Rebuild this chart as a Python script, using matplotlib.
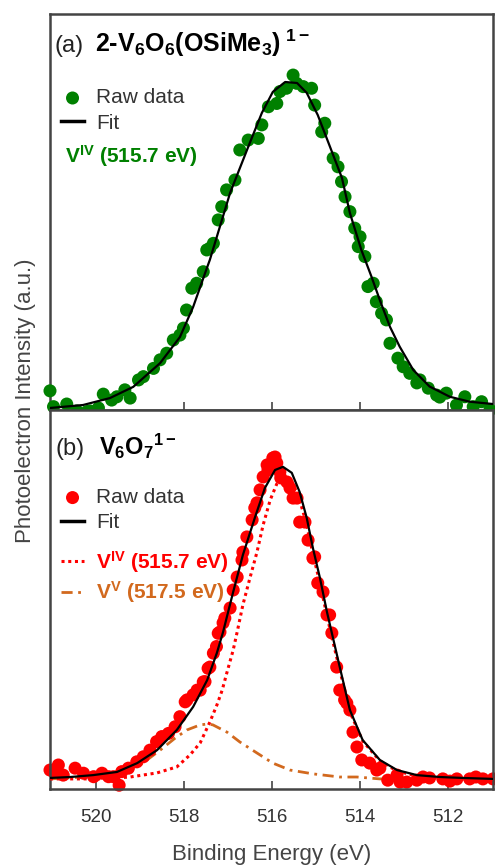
import matplotlib.pyplot as plt

plt.rcParams['font.family'] = ['Liberation Sans', 'DejaVu Sans']
plt.rcParams['mathtext.default'] = 'regular'

# =========================
# DATA  (binding energy in eV, intensity in a.u.)
# =========================
# panel (a): 2-V6O6(OSiMe3)^1-
a_raw_x = [521.04, 520.96, 520.66, 520.43, 520.20, 520.13, 519.94, 519.83, 519.64, 519.52,
           519.34, 519.22, 519.03, 518.92, 518.69, 518.54, 518.39, 518.24, 518.09, 518.01,
           517.94, 517.82, 517.71, 517.56, 517.48, 517.41, 517.33, 517.22, 517.14, 517.03,
           516.84, 516.73, 516.54, 516.31, 516.23, 516.08, 515.89, 515.82, 515.67, 515.52,
           515.44, 515.29, 515.10, 515.03, 514.87, 514.80, 514.61, 514.50, 514.42, 514.34,
           514.23, 514.12, 514.04, 514.00, 513.89, 513.82, 513.70, 513.63, 513.51, 513.40,
           513.32, 513.14, 513.02, 512.87, 512.71, 512.64, 512.45, 512.26, 512.19, 512.04,
           511.81, 511.62, 511.43, 511.24, 511.05]
a_raw_y = [0.058, 0.010, 0.018, -0.003, -0.005, -0.003, 0.006, 0.048, 0.030, 0.040,
           0.061, 0.036, 0.091, 0.101, 0.126, 0.152, 0.172, 0.212, 0.227, 0.248,
           0.303, 0.369, 0.384, 0.419, 0.485, 0.490, 0.505, 0.576, 0.616, 0.667,
           0.697, 0.788, 0.818, 0.823, 0.864, 0.919, 0.929, 0.965, 0.975, 1.015,
           0.990, 0.980, 0.975, 0.924, 0.843, 0.869, 0.763, 0.737, 0.692, 0.646,
           0.601, 0.551, 0.495, 0.525, 0.465, 0.374, 0.384, 0.328, 0.293, 0.273,
           0.202, 0.157, 0.131, 0.111, 0.082, 0.091, 0.066, 0.045, 0.039, 0.051,
           0.015, 0.040, 0.010, 0.025, 0.000]

a_fit_x = [521.04, 520.29, 519.68, 519.15, 518.54, 518.09, 517.79, 517.47, 517.41, 516.95,
           516.54, 516.23, 515.98, 515.70, 515.43, 515.21, 514.96, 514.68, 514.41, 514.23,
           513.97, 513.74, 513.55, 513.32, 513.10, 512.79, 512.42, 511.96, 511.51, 510.98]
a_fit_y = [0.006, 0.015, 0.036, 0.070, 0.142, 0.221, 0.312, 0.433, 0.455, 0.658,
           0.797, 0.900, 0.964, 0.994, 0.991, 0.961, 0.894, 0.797, 0.703, 0.597,
           0.485, 0.404, 0.333, 0.252, 0.192, 0.121, 0.071, 0.040, 0.025, 0.018]

# panel (b): V6O7^1-
b_raw_x = [521.04, 520.96, 520.85, 520.74, 520.47, 520.28, 520.05, 519.86, 519.71, 519.60,
           519.47, 519.41, 519.26, 519.07, 518.92, 518.77, 518.62, 518.50, 518.35, 518.20,
           518.09, 517.97, 517.93, 517.79, 517.70, 517.63, 517.56, 517.52, 517.45, 517.41,
           517.33, 517.26, 517.22, 517.18, 517.11, 517.07, 516.95, 516.88, 516.79, 516.68,
           516.66, 516.57, 516.45, 516.39, 516.34, 516.27, 516.20, 516.11, 516.09, 515.98,
           515.93, 515.89, 515.82, 515.80, 515.66, 515.59, 515.52, 515.43, 515.37, 515.25,
           515.18, 515.07, 515.03, 514.96, 514.84, 514.75, 514.69, 514.64, 514.53, 514.46,
           514.35, 514.30, 514.23, 514.16, 514.07, 513.96, 513.78, 513.62, 513.55, 513.37,
           513.16, 513.09, 512.94, 512.71, 512.57, 512.42, 512.12, 511.96, 511.80, 511.51,
           511.37, 511.21, 510.98]
b_raw_y = [0.060, 0.055, 0.076, 0.044, 0.066, 0.050, 0.039, 0.050, 0.039, 0.039,
           0.012, 0.055, 0.066, 0.086, 0.102, 0.123, 0.150, 0.166, 0.176, 0.197,
           0.229, 0.276, 0.282, 0.298, 0.313, 0.313, 0.339, 0.340, 0.382, 0.386,
           0.430, 0.451, 0.493, 0.497, 0.526, 0.541, 0.573, 0.630, 0.671, 0.725,
           0.750, 0.798, 0.852, 0.890, 0.906, 0.947, 0.988, 1.026, 1.010, 1.048,
           1.051, 1.032, 1.004, 0.985, 0.972, 0.953, 0.921, 0.921, 0.845, 0.845,
           0.788, 0.731, 0.735, 0.652, 0.624, 0.551, 0.551, 0.494, 0.386, 0.313,
           0.282, 0.272, 0.250, 0.180, 0.133, 0.092, 0.082, 0.060, 0.066, 0.028,
           0.044, 0.022, 0.022, 0.028, 0.038, 0.035, 0.032, 0.025, 0.032, 0.032,
           0.038, 0.032, 0.032]

b_fit_x = [521.04, 520.58, 520.06, 519.52, 519.06, 518.61, 518.16, 517.79, 517.47, 517.25,
           517.11, 516.88, 516.66, 516.39, 516.16, 515.93, 515.75, 515.55, 515.37, 515.21,
           515.07, 514.91, 514.75, 514.64, 514.46, 514.23, 513.94, 513.55, 513.16, 512.71,
           512.19, 511.66, 510.98]
b_fit_y = [0.035, 0.038, 0.044, 0.054, 0.082, 0.123, 0.187, 0.260, 0.345, 0.431,
           0.497, 0.624, 0.741, 0.858, 0.953, 1.010, 1.020, 1.001, 0.940, 0.858,
           0.763, 0.668, 0.560, 0.494, 0.386, 0.250, 0.155, 0.092, 0.060, 0.044,
           0.038, 0.035, 0.032]

# V(IV) component, 515.7 eV
b_v4_x = [521.04, 519.90, 519.22, 518.61, 518.16, 517.86, 517.63, 517.41, 517.25, 517.13,
          517.02, 516.88, 516.79, 516.66, 516.50, 516.34, 516.20, 516.04, 515.89, 515.73,
          515.55, 515.37, 515.21, 515.07, 514.91, 514.75, 514.64, 514.46, 514.23, 513.94,
          513.55, 513.16, 512.71, 512.19, 511.66, 510.98]
b_v4_y = [0.032, 0.032, 0.038, 0.051, 0.070, 0.108, 0.146, 0.212, 0.266, 0.313,
          0.370, 0.440, 0.497, 0.583, 0.668, 0.750, 0.836, 0.915, 0.966, 0.985,
          0.975, 0.915, 0.836, 0.744, 0.652, 0.548, 0.481, 0.377, 0.244, 0.152,
          0.089, 0.057, 0.041, 0.035, 0.032, 0.032]

# V(V) component, 517.5 eV
b_v5_x = [521.04, 519.90, 518.99, 518.54, 518.20, 517.93, 517.63, 517.45, 517.34, 517.02,
          516.73, 516.34, 515.98, 515.59, 515.07, 514.46, 514.07, 513.55, 512.64, 510.98]
b_v5_y = [0.032, 0.041, 0.076, 0.123, 0.161, 0.187, 0.203, 0.206, 0.203, 0.180,
          0.149, 0.114, 0.082, 0.060, 0.048, 0.038, 0.038, 0.032, 0.032, 0.032]

ticks = [520, 518, 516, 514, 512]

green = '#008000'
red = '#ff0000'
orange = '#d2691e'
grey = '#333333'

# =========================
# FIGURE
# =========================
fig = plt.figure(figsize=(4.95, 8.66), dpi=100)
ax1 = fig.add_axes([0.101, 0.5266, 0.895, 0.4572])
ax2 = fig.add_axes([0.101, 0.0889, 0.895, 0.4377])

for ax in (ax1, ax2):
    ax.set_xlim(521.04, 510.98)
    ax.set_ylim(0, 1.2)
    ax.set_yticks([])
    ax.set_xticks(ticks)
    ax.tick_params(axis='x', direction='in', length=6, width=1.2, color='#444444',
                   labelsize=13.5, labelcolor=grey, pad=14.5)
    for sp in ax.spines.values():
        sp.set_linewidth(1.8)
        sp.set_color('#444444')
ax1.tick_params(axis='x', labelbottom=False)

leg_kw = dict(loc='upper left', frameon=False, fontsize=15, handlelength=1.1,
              handletextpad=0.6, borderpad=0, borderaxespad=0, scatterpoints=1)

# ---- panel (a)
ax1.scatter(a_raw_x, a_raw_y, s=88, color=green, edgecolors='none', zorder=3,
            clip_on=False, label='Raw data')
ax1.plot(a_fit_x, a_fit_y, color='black', lw=1.6, zorder=4, label='Fit')

leg1 = ax1.legend(bbox_to_anchor=(0.025, 0.812), labelspacing=0.3, **leg_kw)
for t in leg1.get_texts():
    t.set_color(grey)
leg1.get_lines()[0].set_linewidth(2.5)

ax1.text(0.034, 0.624, 'V$^{IV}$ (515.7 eV)', transform=ax1.transAxes, fontsize=15,
         fontweight='bold', color=green, va='baseline')
ax1.text(0.011, 0.904, '(a)', transform=ax1.transAxes, fontsize=17, color='#222222',
         va='baseline')
ax1.text(0.102, 0.904, r'2-V$_6$O$_6$(OSiMe$_3$)$^{\ 1-}$', transform=ax1.transAxes,
         fontsize=18, fontweight='bold', color='black', va='baseline')

# ---- panel (b)
v5_line, = ax2.plot(b_v5_x, b_v5_y, color=orange, lw=2, ls=(0, (4, 2, 1, 2)), zorder=1)
raw_b = ax2.scatter(b_raw_x, b_raw_y, s=88, color=red, edgecolors='none', zorder=2,
                    clip_on=False)
v4_line, = ax2.plot(b_v4_x, b_v4_y, color=red, lw=2.2, ls=(0, (1, 1.2)), zorder=3)
fit_b, = ax2.plot(b_fit_x, b_fit_y, color='black', lw=1.6, zorder=4)

leg2a = ax2.legend([raw_b, fit_b], ['Raw data', 'Fit'], bbox_to_anchor=(0.025, 0.794),
                   labelspacing=0.3, **leg_kw)
for t in leg2a.get_texts():
    t.set_color(grey)
leg2a.get_lines()[0].set_linewidth(2.5)
ax2.add_artist(leg2a)

leg2b = ax2.legend([v4_line, v5_line], ['V$^{IV}$ (515.7 eV)', 'V$^{V}$ (517.5 eV)'],
                   bbox_to_anchor=(0.025, 0.633), labelspacing=0.2, **leg_kw)
for t, c in zip(leg2b.get_texts(), [red, orange]):
    t.set_color(c)
    t.set_fontweight('bold')

ax2.text(0.013, 0.881, '(b)', transform=ax2.transAxes, fontsize=17, color='#222222',
         va='baseline')
ax2.text(0.111, 0.881, r'V$_6$O$_7$$^{1-}$', transform=ax2.transAxes,
         fontsize=17, fontweight='bold', color='black', va='baseline')

ax2.set_xlabel('Binding Energy (eV)', fontsize=16, color='#444444', labelpad=12.5)
fig.text(0.051, 0.537, 'Photoelectron Intensity (a.u.)', rotation=90, va='center',
         ha='center', fontsize=16, color='#444444')

fig.savefig('out.png', dpi=100)
